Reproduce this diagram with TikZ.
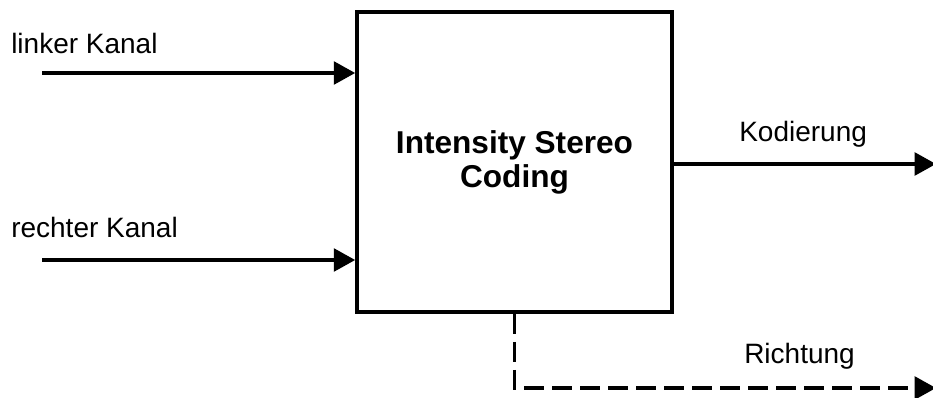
\documentclass[tikz,border=0pt]{standalone}
\usepackage{fontspec}
\setmainfont{Liberation Sans}
\usetikzlibrary{arrows.meta}
\begin{document}
\begin{tikzpicture}[x=0.75pt,y=-0.75pt,
  lbl/.style={anchor=base west,inner sep=0pt,font=\fontsize{21}{25}\selectfont},
  blockbox/.style={draw,line width=2.7pt,minimum width=236.25pt,minimum height=225pt,
    align=center,inner sep=0pt,font=\fontsize{23.7}{25.5}\selectfont\bfseries},
  conn/.style={line width=2.6pt,-{Triangle[length=16pt,width=17pt]}},
  dconn/.style={conn,dash pattern=on 15pt off 6pt}]
\useasboundingbox (0,0) rectangle (933,397);
\node[blockbox] (box) at (514.5,162) {Intensity Stereo\\Coding};
\coordinate (in1) at (42,73);
\coordinate (in2) at (42,260);
\coordinate (out1) at (936,164);
\coordinate (out2) at (936,388);
\node[lbl] (l1) at (11,53) {linker Kanal};
\node[lbl] (l2) at (11,237) {rechter Kanal};
\node[lbl] (l3) at (739,141) {Kodierung};
\node[lbl] (l4) at (744,363) {Richtung};
\draw[conn] (in1) -- (in1 -| box.west);
\draw[conn] (in2) -- (in2 -| box.west);
\draw[conn] (out1 -| box.east) -- (out1);
\draw[dconn] (box.south) -- (box.south |- out2) -- (out2);
\end{tikzpicture}
\end{document}
